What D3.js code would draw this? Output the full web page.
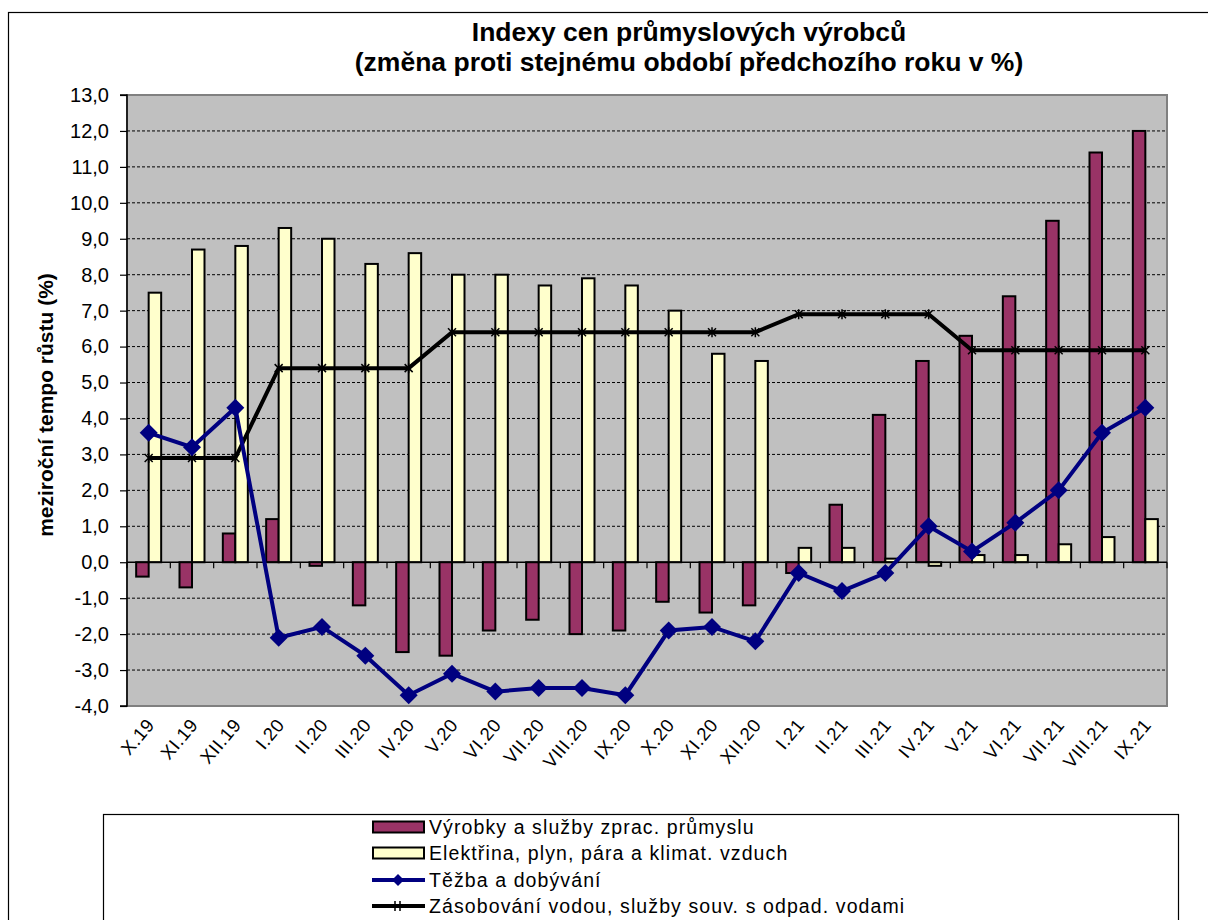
<!DOCTYPE html>
<html><head><meta charset="utf-8">
<script src="https://cdn.jsdelivr.net/npm/d3@7"></script>
<style>body{margin:0;background:#fff}svg{display:block}text{font-family:"Liberation Sans",Arial,sans-serif}</style>
</head><body>
<svg id="c" width="1208" height="920"></svg>
<script>
const categories = ["X.19","XI.19","XII.19","I.20","II.20","III.20","IV.20","V.20","VI.20","VII.20","VIII.20","IX.20","X.20","XI.20","XII.20","I.21","II.21","III.21","IV.21","V.21","VI.21","VII.21","VIII.21","IX.21"];
const vyrobky = [-0.4,-0.7,0.8,1.2,-0.1,-1.2,-2.5,-2.6,-1.9,-1.6,-2.0,-1.9,-1.1,-1.4,-1.2,-0.3,1.6,4.1,5.6,6.3,7.4,9.5,11.4,12.0];
const elektrina = [7.5,8.7,8.8,9.3,9.0,8.3,8.6,8.0,8.0,7.7,7.9,7.7,7.0,5.8,5.6,0.4,0.4,0.1,-0.1,0.2,0.2,0.5,0.7,1.2];
const tezba = [3.6,3.2,4.3,-2.1,-1.8,-2.6,-3.7,-3.1,-3.6,-3.5,-3.5,-3.7,-1.9,-1.8,-2.2,-0.3,-0.8,-0.3,1.0,0.3,1.1,2.0,3.6,4.3];
const zasobovani = [2.9,2.9,2.9,5.4,5.4,5.4,5.4,6.4,6.4,6.4,6.4,6.4,6.4,6.4,6.4,6.9,6.9,6.9,6.9,5.9,5.9,5.9,5.9,5.9];
const yTicks = d3.range(-4, 13.01, 1);
const seriesNames = ["Výrobky a služby zprac. průmyslu","Elektřina, plyn, pára a klimat. vzduch","Těžba a dobývání","Zásobování vodou, služby souv. s odpad. vodami"];
const titleLines = ["Indexy cen průmyslových výrobců","(změna proti stejnému období předchozího roku v %)"];
const yTitle = "meziroční tempo růstu (%)";

const svg = d3.select("#c");
// outer chart border
svg.append("rect").attr("x",8.5).attr("y",12.5).attr("width",1210).attr("height",920)
  .attr("fill","#fff").attr("stroke","#000").attr("stroke-width",1.2);

const L=127,R=1167,T=95,B=706;
const x = d3.scaleBand().domain(categories).range([L,R]).padding(0);
const y = d3.scaleLinear().domain([-4,13]).range([B,T]);

// plot area
svg.append("rect").attr("x",L).attr("y",T).attr("width",R-L).attr("height",B-T)
  .attr("fill","#C0C0C0").attr("stroke","#808080").attr("stroke-width",2);

// gridlines
svg.append("g").selectAll("line").data(yTicks.filter(v=>v>-4&&v<13&&v!==0)).join("line")
  .attr("x1",L).attr("x2",R).attr("y1",d=>y(d)).attr("y2",d=>y(d))
  .attr("stroke","#000").attr("stroke-width",1).attr("stroke-dasharray","3,2");

// y axis
const yAxis = d3.axisLeft(y).tickValues(yTicks).tickSize(7).tickFormat(d=>d3.format(".1f")(d).replace(".",",").replace("−","-"));
const gy = svg.append("g").attr("transform",`translate(${L},0)`).call(yAxis);
gy.select(".domain").attr("stroke","#000").attr("stroke-width",1.5).attr("d",`M-7,${T}H0V${B}H-7`);
gy.selectAll(".tick line").attr("stroke","#000").attr("stroke-width",1.2);
gy.selectAll(".tick text").attr("font-size",20).attr("fill","#000").attr("x",-18)
  .style("font-family","'Liberation Sans',Arial,sans-serif");

// bars
const bw = 12.5;
const gB = svg.append("g");
gB.selectAll("rect.v").data(vyrobky).join("rect").attr("class","v")
  .attr("x",(d,i)=>x(categories[i])+x.bandwidth()/2-bw)
  .attr("y",d=>y(Math.max(0,d))).attr("width",bw).attr("height",d=>Math.abs(y(d)-y(0)))
  .attr("fill","#993366").attr("stroke","#000").attr("stroke-width",2);
gB.selectAll("rect.e").data(elektrina).join("rect").attr("class","e")
  .attr("x",(d,i)=>x(categories[i])+x.bandwidth()/2)
  .attr("y",d=>y(Math.max(0,d))).attr("width",bw).attr("height",d=>Math.abs(y(d)-y(0)))
  .attr("fill","#FFFFCC").attr("stroke","#000").attr("stroke-width",2);

// x axis at zero
svg.append("line").attr("x1",L).attr("x2",R).attr("y1",y(0)).attr("y2",y(0)).attr("stroke","#000").attr("stroke-width",1.5);
svg.append("g").selectAll("line").data(d3.range(categories.length+1)).join("line")
  .attr("x1",i=>L+i*x.step()).attr("x2",i=>L+i*x.step()).attr("y1",y(0)).attr("y2",y(0)+6)
  .attr("stroke","#000").attr("stroke-width",1.2);

// x labels
svg.append("g").selectAll("text").data(categories).join("text")
  .attr("transform",d=>`translate(${x(d)+x.bandwidth()/2-3},${B+11}) rotate(-50)`)
  .attr("text-anchor","end").attr("dy","0.7em").attr("font-size",18.5).attr("letter-spacing",0.6).attr("fill","#000").text(d=>d);

const cx = i=>x(categories[i])+x.bandwidth()/2;
// black line
const line = d3.line().x((d,i)=>cx(i)).y(d=>y(d));
svg.append("path").datum(zasobovani).attr("d",line).attr("fill","none").attr("stroke","#000").attr("stroke-width",4);
svg.append("g").selectAll("path").data(zasobovani).join("path")
  .attr("d",(d,i)=>{const X=cx(i),Y=y(d);return `M${X-4},${Y-4}L${X+4},${Y+4}M${X-4},${Y+4}L${X+4},${Y-4}M${X},${Y-5}V${Y+5}`;})
  .attr("stroke","#000").attr("stroke-width",1.5);
// blue line
svg.append("path").datum(tezba).attr("d",line).attr("fill","none").attr("stroke","#000080").attr("stroke-width",4);
svg.append("g").selectAll("path").data(tezba).join("path")
  .attr("d",(d,i)=>{const X=cx(i),Y=y(d);return `M${X},${Y-9}L${X+9},${Y}L${X},${Y+9}L${X-9},${Y}Z`;})
  .attr("fill","#000080");

// titles
const tt = svg.append("text").attr("text-anchor","middle").attr("font-size",26.5).attr("font-weight","bold").attr("fill","#000");
titleLines.forEach((t,i)=>tt.append("tspan").attr("x",689).attr("y",41+i*30).text(t));
svg.append("text").attr("transform","translate(53,405) rotate(-90)").attr("text-anchor","middle")
  .attr("font-size",21).attr("font-weight","bold").attr("fill","#000").text(yTitle);

// legend
svg.append("rect").attr("x",103.5).attr("y",814.5).attr("width",1075).attr("height",140).attr("fill","#fff").attr("stroke","#000").attr("stroke-width",1.2);
const ly=[827,853,880,906];
const lg = svg.append("g");
lg.append("rect").attr("x",373).attr("y",ly[0]-5.5).attr("width",51).attr("height",11).attr("fill","#993366").attr("stroke","#000").attr("stroke-width",2);
lg.append("rect").attr("x",373).attr("y",ly[1]-5.5).attr("width",51).attr("height",11).attr("fill","#FFFFCC").attr("stroke","#000").attr("stroke-width",2);
lg.append("line").attr("x1",372).attr("x2",425).attr("y1",ly[2]).attr("y2",ly[2]).attr("stroke","#000080").attr("stroke-width",4);
lg.append("path").attr("d",`M398,${ly[2]-6}L404,${ly[2]}L398,${ly[2]+6}L392,${ly[2]}Z`).attr("fill","#000080");
lg.append("line").attr("x1",372).attr("x2",425).attr("y1",ly[3]).attr("y2",ly[3]).attr("stroke","#000").attr("stroke-width",4);
lg.append("path").attr("d",`M395,${ly[3]-5}V${ly[3]+5}M400,${ly[3]-5}V${ly[3]+5}`).attr("stroke","#000").attr("stroke-width",1.5);
lg.selectAll("text").data(seriesNames).join("text").attr("x",429).attr("y",(d,i)=>ly[i]+7)
  .attr("font-size",19.5).attr("letter-spacing",1.1).attr("fill","#000").text(d=>d);
</script>
</body></html>
